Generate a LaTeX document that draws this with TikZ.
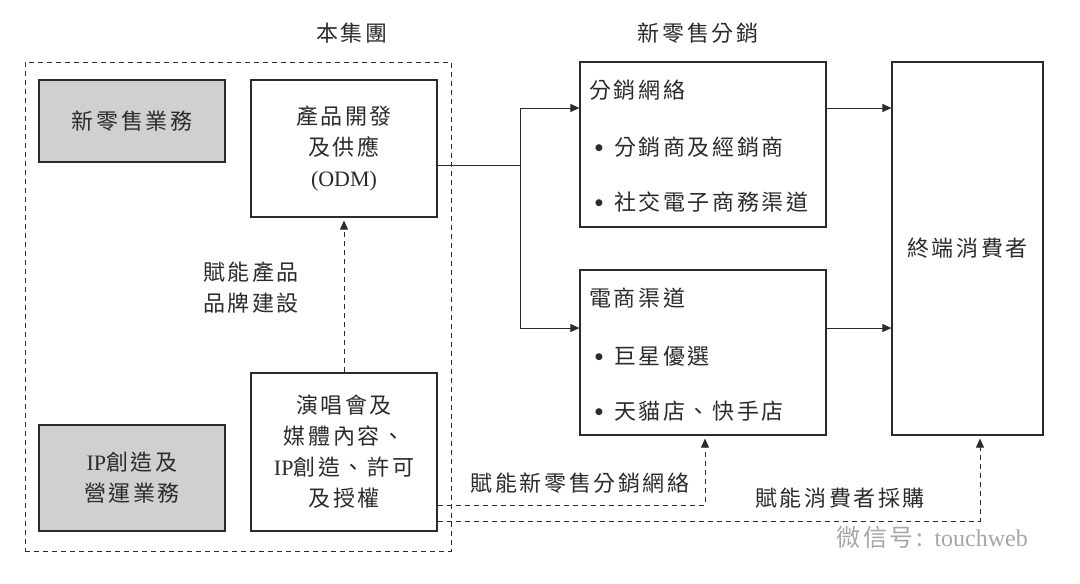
\documentclass[tikz,border=0pt]{standalone}
\usepackage{fontspec}
\setmainfont{Noto Sans CJK TC}[LetterSpace=12]
\newfontfamily\lat{Liberation Serif}
\newfontfamily\djv{DejaVu Sans}
\usetikzlibrary{arrows.meta}
\definecolor{ink}{HTML}{2B2B2B}
\definecolor{boxgray}{HTML}{D0D0D0}
\newcommand{\bul}{\raisebox{5pt}{\djv\fontsize{9}{9}\selectfont ●}\hspace{11pt}}
\begin{document}
\begin{tikzpicture}[x=1pt,y=-1pt,
  every node/.style={text=ink, font=\fontsize{22}{31}\selectfont},
  box/.style={draw=ink, line width=1.2pt, inner sep=0pt, align=center},
  graybox/.style={box, fill=boxgray},
  arr/.style={draw=ink, line width=1pt, -{Triangle[length=9pt,width=8pt]}},
  plain/.style={draw=ink, line width=1pt},
  dasharr/.style={draw=ink, line width=1pt, dash pattern=on 5pt off 4pt, -{Triangle[length=9pt,width=8pt]}, shorten >=3pt},
  dashline/.style={draw=ink, line width=1pt, dash pattern=on 5pt off 4pt},
  lbl/.style={inner sep=0pt, align=center},
  item/.style={inner sep=0pt, anchor=west}
]
\useasboundingbox (0,0) rectangle (1080,584);
\fill[white] (0,0) rectangle (1080,584);

% group
\node[dashline, minimum width=426pt, minimum height=489pt, inner sep=0pt] (group) at (238,306.5) {};
\node[lbl] (grouptitle) at (352,33) {本集團};
\node[lbl] (disttitle) at (698,33) {新零售分銷};

\node[graybox, minimum width=186pt, minimum height=82pt] (retail) at (132,121) {新零售業務};
\node[graybox, minimum width=186pt, minimum height=106pt] (ip) at (132,478) {{\lat IP}創造及\\營運業務};
\node[box, minimum width=186pt, minimum height=137pt] (odm) at (344,148.5) {產品開發\\及供應\\{\lat (ODM)}};
\node[box, minimum width=186pt, minimum height=158pt] (concert) at (344,452) {演唱會及\\媒體內容、\\{\lat IP}創造、許可\\及授權};

\node[box, minimum width=246pt, minimum height=165pt] (dist) at (703,144.5) {};
\node[item] (distT) at (589,90) {分銷網絡};
\node[item] (dist1) at (595,147) {\bul 分銷商及經銷商};
\node[item] (dist2) at (595,202) {\bul 社交電子商務渠道};

\node[box, minimum width=246pt, minimum height=165pt] (ec) at (703,352.5) {};
\node[item] (ecT) at (589,298) {電商渠道};
\node[item] (ec1) at (595,356) {\bul 巨星優選};
\node[item] (ec2) at (595,411) {\bul 天貓店、快手店};

\node[box, minimum width=151pt, minimum height=373pt] (cons) at (967.5,248.5) {終端消費者};

% solid connectors
\coordinate (j) at (520,165);
\coordinate (jt) at (520,108);
\coordinate (jb) at (520,328);
\draw[plain] (odm.east |- j) -- (j);
\draw[plain] (jt) -- (jb);
\draw[arr] (jt) -- (dist.west |- jt);
\draw[arr] (jb) -- (ec.west |- jb);
\draw[arr] (dist.east |- jt) -- (cons.west |- jt);
\draw[arr] (ec.east |- jb) -- (cons.west |- jb);

% dashed connectors
\draw[dasharr] (concert.north) -- (odm.south);
\node[lbl] (brand) at (251,288) {賦能產品\\品牌建設};

\coordinate (d1) at (705,505);
\coordinate (d2) at (980,521);
\draw[dasharr] (concert.east |- d1) -| (ec.south -| d1);
\draw[dasharr] (concert.east |- d2) -| (cons.south -| d2);
\node[lbl] (l1) at (580,483) {賦能新零售分銷網絡};
\node[lbl] (l2) at (840,498) {賦能消費者採購};

% watermark
\node[lbl, text=black!35, font=\fontsize{24}{26}\selectfont] (wm) at (932,537) {微信号: {\lat touchweb}};
\end{tikzpicture}
\end{document}
